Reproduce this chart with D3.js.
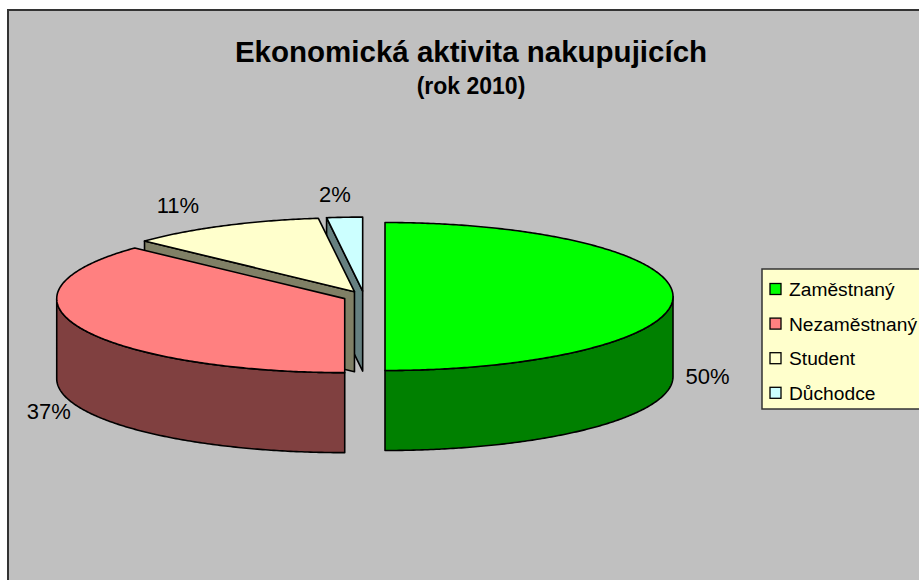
<!DOCTYPE html>
<html>
<head>
<meta charset="utf-8">
<script src="https://cdn.jsdelivr.net/npm/d3@7"></script>
<style>
  html, body { margin: 0; padding: 0; background: #ffffff; }
  svg { display: block; }
</style>
</head>
<body>
<svg id="chart" width="919" height="580"></svg>
<script>
// ---- data ----
const categories = ["Zaměstnaný", "Nezaměstnaný", "Student", "Důchodce"];
const values = [50, 37, 11, 2];
const labels = ["50%", "37%", "11%", "2%"];
const titleText = "Ekonomická aktivita nakupujicích";
const subtitleText = "(rok 2010)";

// ---- styling ----
const topColors = ["#00FF00", "#FF8080", "#FFFFCC", "#CCFFFF"];
const FONT = "'Liberation Sans', Arial, sans-serif";

const svg = d3.select("#chart");

// chart area
svg.append("rect")
  .attr("x", 8).attr("y", 10).attr("width", 940).attr("height", 600)
  .attr("fill", "#C0C0C0").attr("stroke", "#333").attr("stroke-width", 2);

// title
svg.append("text").attr("x", 471).attr("y", 62)
  .attr("text-anchor", "middle").attr("font-family", FONT)
  .attr("font-weight", "bold").attr("font-size", 29.5).attr("fill", "#000")
  .text(titleText);
svg.append("text").attr("x", 471).attr("y", 94)
  .attr("text-anchor", "middle").attr("font-family", FONT)
  .attr("font-weight", "bold").attr("font-size", 23).attr("fill", "#000")
  .text(subtitleText);

// ---- 3D pie ----
const cx0 = 364, cy0 = 296.5, rx = 288, ry = 74, depth = 80, explode = 21;

const pie = d3.pie().sort(null).startAngle(0).endAngle(2 * Math.PI);
const arcs = pie(values);

const shade = c => { const k = d3.rgb(c); return d3.rgb(k.r * 0.5, k.g * 0.5, k.b * 0.5).toString(); };

const slices = arcs.map((a, i) => {
  const mid = (a.startAngle + a.endAngle) / 2;
  const cx = cx0 + explode * Math.sin(mid);
  const cy = cy0 - explode * Math.cos(mid) * ry / rx;
  return { i, a0: a.startAngle, a1: a.endAngle, mid, cx, cy,
           top: topColors[i], side: shade(topColors[i]) };
});

const pt = (s, t, dz) => [s.cx + rx * Math.sin(t), s.cy - ry * Math.cos(t) + (dz || 0)];
const arcPts = (s, t0, t1, dz) => {
  const n = Math.max(2, Math.ceil(Math.abs(t1 - t0) / 0.01));
  return d3.range(n + 1).map(k => pt(s, t0 + (t1 - t0) * k / n, dz));
};
const line = d3.line();

const faces = [];
slices.forEach(s => {
  // radial faces
  if (Math.sin(s.a0) < -1e-6) {
    const p = pt(s, s.a0);
    faces.push({ z: (s.cy + p[1]) / 2, pts: [[s.cx, s.cy], p, [p[0], p[1] + depth], [s.cx, s.cy + depth]], fill: s.side });
  }
  if (Math.sin(s.a1) > 1e-6) {
    const p = pt(s, s.a1);
    faces.push({ z: (s.cy + p[1]) / 2, pts: [[s.cx, s.cy], p, [p[0], p[1] + depth], [s.cx, s.cy + depth]], fill: s.side });
  }
});
faces.sort((a, b) => a.z - b.z);

const walls = [];
slices.forEach(s => {
  const t0 = Math.max(s.a0, Math.PI / 2), t1 = Math.min(s.a1, 3 * Math.PI / 2);
  if (t1 > t0) {
    const pts = arcPts(s, t0, t1, 0).concat(arcPts(s, t1, t0, depth));
    walls.push({ pts, fill: s.side });
  }
});

const g = svg.append("g").attr("stroke", "#000").attr("stroke-width", 1.6).attr("stroke-linejoin", "round");
g.selectAll("path.face").data(faces).join("path").attr("class", "face")
  .attr("d", d => line(d.pts) + "Z").attr("fill", d => d.fill);
g.selectAll("path.wall").data(walls).join("path").attr("class", "wall")
  .attr("d", d => line(d.pts) + "Z").attr("fill", d => d.fill);
g.selectAll("path.top").data(slices).join("path").attr("class", "top")
  .attr("d", s => line([[s.cx, s.cy]].concat(arcPts(s, s.a0, s.a1, 0))) + "Z")
  .attr("fill", s => s.top);

// data labels
svg.selectAll("text.lbl").data(slices).join("text").attr("class", "lbl")
  .attr("x", s => { const front = Math.cos(s.mid) < 0; const k = front ? 1.12 : 1.32;
                    return s.cx + rx * k * Math.sin(s.mid) - (front ? 0 : 4); })
  .attr("y", s => { const front = Math.cos(s.mid) < 0; const k = front ? 1.12 : 1.32;
                    return s.cy - ry * k * Math.cos(s.mid) + (front ? depth : 0); })
  .attr("dy", "0.36em")
  .attr("text-anchor", "middle").attr("font-family", FONT).attr("font-size", 22).attr("fill", "#000")
  .text(s => labels[s.i]);

// legend
const lg = svg.append("g");
lg.append("rect").attr("x", 762).attr("y", 269).attr("width", 170).attr("height", 140)
  .attr("fill", "#FFFFCC").attr("stroke", "#333").attr("stroke-width", 1.5);
const rows = lg.selectAll("g.row").data(categories).join("g").attr("class", "row")
  .attr("transform", (d, i) => `translate(0, ${289 + i * 34.6})`);
rows.append("rect").attr("x", 770).attr("y", -5.5).attr("width", 11).attr("height", 11)
  .attr("fill", (d, i) => topColors[i]).attr("stroke", "#000").attr("stroke-width", 1.3);
rows.append("text").attr("x", 789).attr("y", 0).attr("dy", "0.36em")
  .attr("font-family", FONT).attr("font-size", 19.2).attr("fill", "#000")
  .text(d => d);
</script>
</body>
</html>
